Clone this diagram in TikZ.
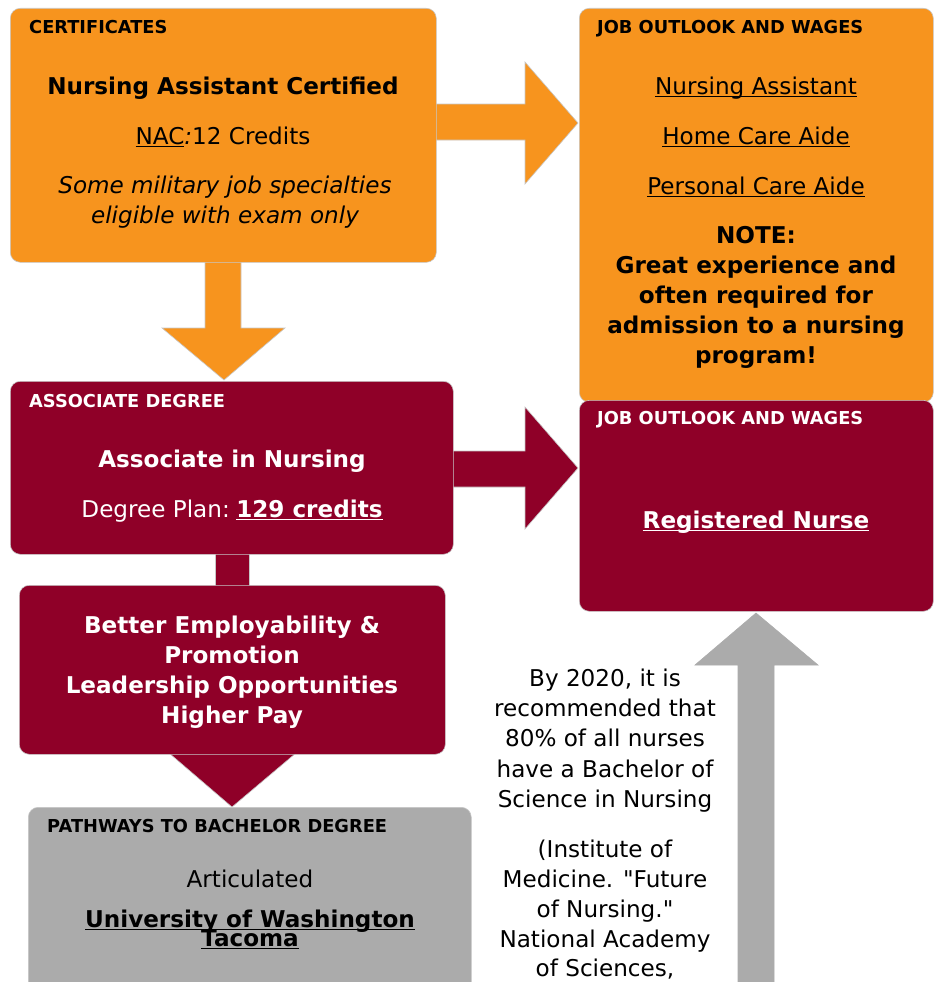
\documentclass[tikz,border=0pt]{standalone}
\usepackage{fontspec}
\setmainfont{DejaVu Sans}[Ligatures=TeXOff]
\definecolor{corange}{HTML}{F7941E}
\definecolor{cmaroon}{HTML}{8F0028}
\definecolor{cgray}{HTML}{ABABAB}
\newcommand\ulx[1]{\setbox0=\hbox{#1}\rlap{\rule[-2.8pt]{\wd0}{1.3pt}}\box0}
\begin{document}
\begin{tikzpicture}[x=1pt,y=-1pt,
  box/.style={draw=black!22, line width=0.6pt, rounded corners=10pt, anchor=north west, inner sep=0pt},
  arr/.style={draw=black!22, line width=0.6pt},
  hd/.style={anchor=base west, inner sep=0pt, font=\fontsize{17.8}{20}\selectfont\bfseries},
  txt/.style={anchor=base, inner sep=0pt, font=\fontsize{23.1}{30}\selectfont},
  btxt/.style={txt, font=\fontsize{23.1}{30}\selectfont\bfseries}]
\useasboundingbox (0,0) rectangle (940,982);
\clip (0,0) rectangle (940,982);
% arrows
\draw[arr, fill=corange] (430,104) -- (525,104) -- (525,62) -- (578,123) -- (525,184) -- (525,140) -- (430,140) -- cycle;
\draw[arr, fill=corange] (205,255) -- (205,328) -- (162,328) -- (224,380) -- (285,328) -- (241,328) -- (241,255) -- cycle;
\draw[arr, fill=cmaroon] (448,451) -- (525,451) -- (525,407) -- (578,468) -- (525,529) -- (525,487) -- (448,487) -- cycle;
\draw[arr, fill=cmaroon] (215,548) rectangle (249,592);
\draw[arr, fill=cmaroon] (169,753) -- (232,807) -- (296,753) -- cycle;
\draw[arr, fill=cgray, draw=cgray] (756,613) -- (818,665) -- (774,665) -- (774,995) -- (738,995) -- (738,665) -- (695,665) -- cycle;
% boxes
\node[box, fill=corange, minimum width=426pt, minimum height=254pt] (cert) at (10,8) {};
\node[box, fill=corange, minimum width=354pt, minimum height=394pt] (jobA) at (579,8) {};
\node[box, fill=cmaroon, minimum width=443pt, minimum height=173pt] (assoc) at (10,381) {};
\node[box, fill=cmaroon, minimum width=354pt, minimum height=211pt] (jobB) at (579,400) {};
\node[box, fill=cmaroon, minimum width=426pt, minimum height=169pt] (better) at (19,585) {};
\node[box, fill=cgray, minimum width=443pt, minimum height=220pt] (path) at (28,807) {};
% certificates text
\node[hd] (certh) at (29,33.5) {CERTIFICATES};
\node[btxt] (c1) at (223,94) {Nursing Assistant Certified};
\node[txt] (c2) at (223,144) {\ulx{NAC}\textit{:}12 Credits};
\node[txt, font=\fontsize{23.1}{30}\selectfont\itshape] (c3) at (225,193) {Some military job specialties};
\node[txt, font=\fontsize{23.1}{30}\selectfont\itshape] (c4) at (225,223) {eligible with exam only};
% job outlook orange
\node[hd] (jah) at (597,34) {JOB OUTLOOK AND WAGES};
\node[txt] (ja1) at (756,94) {\ulx{Nursing Assistant}};
\node[txt] (ja2) at (756,144) {\ulx{Home Care Aide}};
\node[txt] (ja3) at (756,194) {\ulx{Personal Care Aide}};
\node[btxt] (ja4) at (756,243) {NOTE:};
\node[btxt] (ja5) at (756,273) {Great experience and};
\node[btxt] (ja6) at (756,303) {often required for};
\node[btxt] (ja7) at (756,333) {admission to a nursing};
\node[btxt] (ja8) at (756,363) {program!};
% associate
\node[hd, text=white] (ash) at (29,407) {ASSOCIATE DEGREE};
\node[btxt, text=white] (as1) at (232,467) {Associate in Nursing};
\node[txt, text=white] (as2) at (232,517) {Degree Plan:\hspace{0.28em}\textbf{\ulx{129 credits}}};
% job outlook maroon
\node[hd, text=white] (jbh) at (597,424) {JOB OUTLOOK AND WAGES};
\node[btxt, text=white] (jb1) at (756,528) {\ulx{Registered Nurse}};
% better
\node[btxt, text=white] (b1) at (232,633) {Better Employability \&};
\node[btxt, text=white] (b2) at (232,663) {Promotion};
\node[btxt, text=white] (b3) at (232,693) {Leadership Opportunities};
\node[btxt, text=white] (b4) at (232,723) {Higher Pay};
% pathways
\node[hd] (ph) at (47,832) {PATHWAYS TO BACHELOR DEGREE};
\node[txt] (p1) at (250,887) {Articulated};
\node[btxt] (p2) at (250,927) {\ulx{University of Washington}};
\node[btxt] (p3) at (250,946) {\ulx{Tacoma}};
% quote
\node[txt] (q1) at (605,686) {By 2020, it is};
\node[txt] (q2) at (605,716) {recommended that};
\node[txt] (q3) at (605,746) {80\% of all nurses};
\node[txt] (q4) at (605,777) {have a Bachelor of};
\node[txt] (q5) at (605,807) {Science in Nursing};
\node[txt] (q6) at (605,857) {(Institute of};
\node[txt] (q7) at (605,887) {Medicine. "Future};
\node[txt] (q8) at (605,917) {of Nursing."};
\node[txt] (q9) at (605,947) {National Academy};
\node[txt] (q10) at (605,976) {of Sciences,};
\end{tikzpicture}
\end{document}
